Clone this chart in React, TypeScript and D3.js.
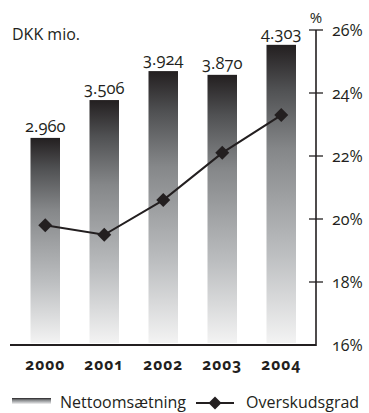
import React from "react";
import * as d3 from "d3";

const years = ["2000", "2001", "2002", "2003", "2004"];
const revenue = [2960, 3506, 3924, 3870, 4303];
const margin = [19.8, 19.5, 20.6, 22.1, 23.3];
const pctTicks = [16, 18, 20, 22, 24, 26];

const W = 369;
const H = 413;
const FONT = "'Open Sans', sans-serif";
const INK = "#231f20";

const dk = d3.formatLocale({
  decimal: ",",
  thousands: ".",
  grouping: [3],
  currency: ["", ""],
});
const fmt = dk.format(",");

export default function App() {
  const x = d3.scaleBand<string>().domain(years).range([30.5, 296]).paddingInner(0.5).paddingOuter(0);
  const yBar = d3.scaleLinear().domain([0, 4950]).range([343, 0]);
  const yPct = d3.scaleLinear().domain([16, 26]).range([345, 30]);
  const axisX = 316;

  const line = d3
    .line<number>()
    .x((_, i) => x(years[i])! + x.bandwidth() / 2)
    .y((d) => yPct(d));

  const diamond = (cx: number, cy: number, r: number) =>
    `M${cx},${cy - r}L${cx + r},${cy}L${cx},${cy + r}L${cx - r},${cy}Z`;

  return (
    <svg
      width={W}
      height={H}
      style={{ position: "absolute", left: 0, top: 0, background: "#fff" }}
      fontFamily={FONT}
    >
      <defs>
        <linearGradient id="barGrad" x1="0" y1="0" x2="0" y2="1">
          <stop offset="0" stopColor="#231f20" />
          <stop offset="0.15" stopColor="#505153" />
          <stop offset="0.35" stopColor="#858789" />
          <stop offset="0.7" stopColor="#bcbec0" />
          <stop offset="1" stopColor="#f3f3f3" />
        </linearGradient>
      </defs>

      <text x={12} y={40} fontSize={16} fill={INK}>
        DKK mio.
      </text>

      {/* bars */}
      {revenue.map((v, i) => (
        <g key={years[i]}>
          <rect
            x={x(years[i])}
            y={yBar(v)}
            width={x.bandwidth()}
            height={yBar(0) - yBar(v)}
            fill="url(#barGrad)"
          />
          <text
            x={x(years[i])! + x.bandwidth() / 2}
            y={yBar(v) - 6}
            textAnchor="middle"
            fontSize={16.5}
            fill={INK}
            style={{ fontVariantNumeric: "oldstyle-nums" }}
          >
            {fmt(v)}
          </text>
          <text
            x={x(years[i])! + x.bandwidth() / 2}
            y={370}
            textAnchor="middle"
            fontSize={15.5}
            fontWeight="bold"
            letterSpacing={1}
            fill={INK}
            style={{ fontVariantNumeric: "oldstyle-nums" }}
          >
            {years[i]}
          </text>
        </g>
      ))}

      {/* baseline + right axis */}
      <line x1={10} x2={axisX} y1={345} y2={345} stroke={INK} strokeWidth={1.8} />
      <line x1={axisX} x2={axisX} y1={yPct(26)} y2={345.9} stroke={INK} strokeWidth={1.6} />
      {pctTicks.map((t) => (
        <g key={t}>
          {t !== 16 && (
            <line x1={axisX - 7} x2={axisX + 7} y1={yPct(t)} y2={yPct(t)} stroke={INK} strokeWidth={1.3} />
          )}
          <text
            x={332}
            y={yPct(t)}
            dy="0.35em"
            fontSize={16}
            fill={INK}
            style={{ fontVariantNumeric: "oldstyle-nums" }}
          >
            {t}%
          </text>
        </g>
      ))}
      <text x={axisX} y={23} textAnchor="middle" fontSize={15} fill={INK}>
        %
      </text>

      {/* margin line */}
      <path d={line(margin) ?? ""} fill="none" stroke={INK} strokeWidth={2} />
      {margin.map((m, i) => (
        <path key={i} d={diamond(x(years[i])! + x.bandwidth() / 2, yPct(m), 7)} fill={INK} />
      ))}

      {/* legend */}
      <rect x={12} y={398} width={39} height={6} fill="url(#barGrad)" />
      <text x={60} y={408} fontSize={16} fill={INK}>
        Nettoomsætning
      </text>
      <line x1={196} x2={234} y1={403} y2={403} stroke={INK} strokeWidth={2} />
      <path d={diamond(215, 403, 6.5)} fill={INK} />
      <text x={246} y={408} fontSize={16} fill={INK}>
        Overskudsgrad
      </text>
    </svg>
  );
}
